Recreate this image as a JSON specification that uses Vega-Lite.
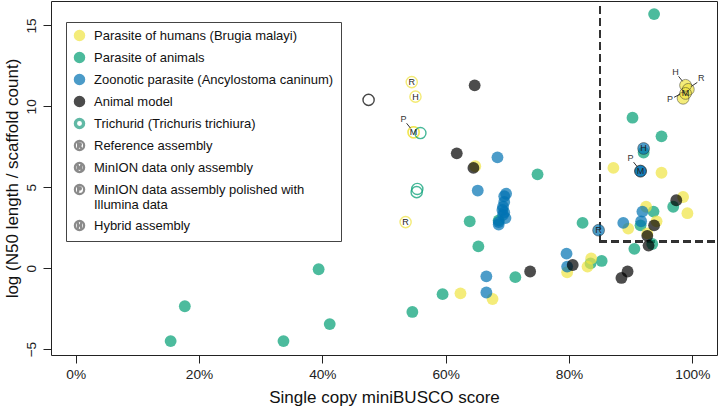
{
  "$schema": "https://vega.github.io/schema/vega-lite/v6.json",
  "autosize": "none",
  "width": 666,
  "height": 354,
  "padding": {"left": 51, "top": 1, "right": 2, "bottom": 56},
  "config": {
    "view": {"stroke": "#222", "strokeWidth": 1},
    "font": "Liberation Sans",
    "axis": {"domain": false, "grid": false, "tickColor": "#222", "tickSize": 8, "labelFont": "Liberation Sans", "labelFontSize": 13.7, "labelColor": "#222", "titleFont": "Liberation Sans", "titleFontSize": 17, "titleFontWeight": "normal", "titleColor": "#111"},
    "legend": {"title": null, "orient": "none", "legendX": 15, "legendY": 21, "padding": 7,
      "strokeColor": "#444", "fillColor": "white", "labelFontSize": 13, "labelFont": "Liberation Sans", "labelColor": "#111",
      "symbolSize": 100, "labelOffset": 8, "rowPadding": 5, "labelLimit": 400}
  },
  "data": {"values": [
    {"x":93.8,"y":15.7,"c":"ani"},{"x":90.3,"y":9.3,"c":"ani"},{"x":95.0,"y":8.15,"c":"ani"},{"x":92.1,"y":7.15,"c":"ani"},
    {"x":74.9,"y":5.8,"c":"ani"},{"x":96.9,"y":3.8,"c":"ani"},{"x":93.7,"y":3.5,"c":"ani"},{"x":91.6,"y":2.65,"c":"ani"},
    {"x":82.2,"y":2.8,"c":"ani"},{"x":93.5,"y":1.5,"c":"ani"},{"x":90.6,"y":1.2,"c":"ani"},{"x":85.3,"y":0.45,"c":"ani"},
    {"x":83.5,"y":0.3,"c":"ani"},{"x":68.6,"y":2.96,"c":"ani"},{"x":63.9,"y":2.9,"c":"ani"},{"x":65.3,"y":1.35,"c":"ani"},
    {"x":71.3,"y":-0.55,"c":"ani"},{"x":59.5,"y":-1.6,"c":"ani"},{"x":39.4,"y":-0.06,"c":"ani"},{"x":17.7,"y":-2.35,"c":"ani"},
    {"x":15.4,"y":-4.5,"c":"ani"},{"x":33.7,"y":-4.5,"c":"ani"},{"x":41.2,"y":-3.45,"c":"ani"},{"x":54.6,"y":-2.7,"c":"ani"},
    {"x":87.2,"y":6.2,"c":"hum"},{"x":95.0,"y":5.9,"c":"hum"},{"x":98.5,"y":4.4,"c":"hum"},{"x":99.2,"y":3.4,"c":"hum"},
    {"x":92.5,"y":3.8,"c":"hum"},{"x":94.2,"y":2.9,"c":"hum"},{"x":89.6,"y":2.45,"c":"hum"},{"x":92.7,"y":2.15,"c":"hum"},
    {"x":83.6,"y":0.6,"c":"hum"},{"x":83.0,"y":0.1,"c":"hum"},{"x":79.7,"y":-0.25,"c":"hum"},{"x":64.8,"y":6.3,"c":"hum"},
    {"x":62.4,"y":-1.55,"c":"hum"},{"x":67.6,"y":-1.9,"c":"hum"},
    {"x":98.9,"y":11.3,"c":"hum","a":"H","p":"ul"},{"x":99.35,"y":11.05,"c":"hum","a":"R","p":"ur"},
    {"x":98.5,"y":10.5,"c":"hum","a":"P","p":"l"},{"x":98.9,"y":10.8,"c":"hum","a":"M","p":"c"},
    {"x":68.4,"y":6.85,"c":"zoo"},{"x":65.2,"y":4.8,"c":"zoo"},
    {"x":69.8,"y":4.6,"c":"zoo"},{"x":69.5,"y":4.45,"c":"zoo"},{"x":69.5,"y":4.1,"c":"zoo"},{"x":69.3,"y":3.8,"c":"zoo"},
    {"x":69.2,"y":3.6,"c":"zoo"},{"x":69.5,"y":3.45,"c":"zoo"},{"x":69.3,"y":3.3,"c":"zoo"},{"x":69.7,"y":3.1,"c":"zoo"},
    {"x":68.6,"y":2.85,"c":"zoo"},{"x":68.6,"y":2.7,"c":"zoo"},
    {"x":79.6,"y":0.9,"c":"zoo"},{"x":79.7,"y":0.1,"c":"zoo"},{"x":66.6,"y":-0.5,"c":"zoo"},{"x":66.6,"y":-1.5,"c":"zoo"},
    {"x":91.9,"y":3.5,"c":"zoo"},{"x":88.8,"y":2.8,"c":"zoo"},{"x":91.7,"y":2.9,"c":"zoo"},
    {"x":92.1,"y":7.4,"c":"zoo","a":"H","p":"c"},{"x":91.6,"y":6.0,"c":"zoo","a":"P","p":"ul"},
    {"x":91.6,"y":6.0,"c":"zoo","a":"M","p":"c"},{"x":84.8,"y":2.35,"c":"zoo","a":"R","p":"c"},
    {"x":64.7,"y":11.3,"c":"mod"},{"x":61.8,"y":7.1,"c":"mod"},{"x":64.5,"y":6.2,"c":"mod"},{"x":97.4,"y":4.2,"c":"mod"},
    {"x":93.8,"y":2.65,"c":"mod"},{"x":92.7,"y":2.0,"c":"mod"},{"x":92.9,"y":1.4,"c":"mod"},{"x":80.6,"y":0.2,"c":"mod"},
    {"x":73.7,"y":-0.2,"c":"mod"},{"x":89.5,"y":-0.2,"c":"mod"},{"x":88.5,"y":-0.6,"c":"mod"},
    {"x":54.5,"y":11.5,"c":"hum","h":1,"a":"R","p":"c"},{"x":55.1,"y":10.6,"c":"hum","h":1,"a":"H","p":"c"},
    {"x":54.8,"y":8.4,"c":"hum","h":1,"a":"P","p":"ul"},{"x":54.8,"y":8.4,"c":"hum","h":1,"a":"M","p":"c"},
    {"x":53.5,"y":2.85,"c":"hum","h":1,"a":"R","p":"c"},
    {"x":55.9,"y":8.35,"c":"ani","h":1},{"x":55.4,"y":4.9,"c":"ani","h":1},{"x":55.3,"y":4.7,"c":"ani","h":1},
    {"x":47.5,"y":10.4,"c":"mod","h":1}
  ]},
  "encoding": {
    "x": {"field": "x", "type": "quantitative", "scale": {"domain": [-4, 104], "nice": false, "zero": false},
      "axis": {"values": [0, 20, 40, 60, 80, 100], "labelExpr": "datum.value + '%'", "labelPadding": 4, "title": "Single copy miniBUSCO score", "titlePadding": 9}},
    "y": {"field": "y", "type": "quantitative", "scale": {"domain": [-5.36, 16.51], "nice": false, "zero": false},
      "axis": {"values": [-5, 0, 5, 10, 15], "labelAngle": 270, "labelAlign": "center", "labelBaseline": "bottom", "labelPadding": 5, "title": "log (N50 length / scaffold count)", "titlePadding": 3}}
  },
  "layer": [
    {"mark": {"type": "rule", "strokeDash": [7, 5], "strokeWidth": 1.4, "color": "#333"},
     "encoding": {"x": {"datum": 85}, "y": {"datum": 1.65}, "y2": {"datum": 16.51}}},
    {"mark": {"type": "rule", "strokeDash": [7, 5], "strokeWidth": 1.4, "color": "#333"},
     "encoding": {"x": {"datum": 85}, "x2": {"datum": 104}, "y": {"datum": 1.65}}},
    {"transform": [{"filter": "datum.h != 1"}],
     "mark": {"type": "point", "filled": true, "size": 140, "opacity": 0.7},
     "encoding": {
       "color": {"field": "c", "type": "nominal",
         "scale": {"domain": ["hum", "ani", "zoo", "mod", "tri", "ref", "min", "pol", "hyb"],
                   "range": ["#F0E442", "#009E73", "#0072B2", "#000000", "#1f9c80", "#5a5a5a", "#5a5a5a", "#5a5a5a", "#5a5a5a"]},
         "legend": {"labelExpr": "datum.value=='hum' ? 'Parasite of humans (Brugia malayi)' : datum.value=='ani' ? 'Parasite of animals' : datum.value=='zoo' ? 'Zoonotic parasite (Ancylostoma caninum)' : datum.value=='mod' ? 'Animal model' : datum.value=='tri' ? 'Trichurid (Trichuris trichiura)' : datum.value=='ref' ? 'Reference assembly' : datum.value=='min' ? 'MinION data only assembly' : datum.value=='pol' ? ['MinION data assembly polished with', 'Illumina data'] : 'Hybrid assembly'"}},
       "shape": {"field": "c", "type": "nominal",
         "scale": {"domain": ["hum", "ani", "zoo", "mod", "tri", "ref", "min", "pol", "hyb"],
                   "range": ["circle", "circle", "circle", "circle",
                     "M-1,0A1,1,0,1,1,1,0A1,1,0,1,1,-1,0ZM-0.64,0A0.64,0.64,0,1,0,0.64,0A0.64,0.64,0,1,0,-0.64,0Z",
                     "M-1,0A1,1,0,1,1,1,0A1,1,0,1,1,-1,0ZM-0.86,0A0.86,0.86,0,1,0,0.86,0A0.86,0.86,0,1,0,-0.86,0ZM-0.35,-0.5H0.07A0.275,0.275,0,0,1,0.07,0.05H-0.19V0.5H-0.35ZM-0.19,-0.34V-0.11H0.07A0.115,0.115,0,0,0,0.07,-0.34ZM0,0.05H0.17L0.4,0.5H0.23Z",
                     "M-1,0A1,1,0,1,1,1,0A1,1,0,1,1,-1,0ZM-0.86,0A0.86,0.86,0,1,0,0.86,0A0.86,0.86,0,1,0,-0.86,0ZM-0.45,-0.5H-0.29V0.5H-0.45ZM0.29,-0.5H0.45V0.5H0.29ZM-0.29,-0.5L0,0.08L0.29,-0.5V-0.22L0,0.3L-0.29,-0.22Z",
                     "M-1,0A1,1,0,1,1,1,0A1,1,0,1,1,-1,0ZM-0.86,0A0.86,0.86,0,1,0,0.86,0A0.86,0.86,0,1,0,-0.86,0ZM-0.35,-0.5H0.07A0.275,0.275,0,0,1,0.07,0.05H-0.19V0.5H-0.35ZM-0.19,-0.34V-0.11H0.07A0.115,0.115,0,0,0,0.07,-0.34Z",
                     "M-1,0A1,1,0,1,1,1,0A1,1,0,1,1,-1,0ZM-0.86,0A0.86,0.86,0,1,0,0.86,0A0.86,0.86,0,1,0,-0.86,0ZM-0.4,-0.5H-0.23V0.5H-0.4ZM0.23,-0.5H0.4V0.5H0.23ZM-0.23,-0.08H0.23V0.08H-0.23Z"]},
         "legend": {"labelExpr": "datum.value=='hum' ? 'Parasite of humans (Brugia malayi)' : datum.value=='ani' ? 'Parasite of animals' : datum.value=='zoo' ? 'Zoonotic parasite (Ancylostoma caninum)' : datum.value=='mod' ? 'Animal model' : datum.value=='tri' ? 'Trichurid (Trichuris trichiura)' : datum.value=='ref' ? 'Reference assembly' : datum.value=='min' ? 'MinION data only assembly' : datum.value=='pol' ? ['MinION data assembly polished with', 'Illumina data'] : 'Hybrid assembly'"}}
     }},
    {"transform": [{"filter": "datum.h == 1 && datum.a"}],
     "mark": {"type": "point", "filled": true, "size": 140, "opacity": 1, "color": "white"}},
    {"transform": [{"filter": "datum.h == 1"}],
     "mark": {"type": "point", "filled": false, "size": 125, "strokeWidth": 1.4, "opacity": 0.72},
     "encoding": {"color": {"field": "c", "type": "nominal", "legend": null}}},
    {"transform": [{"filter": "datum.h != 1 && datum.a"}],
     "mark": {"type": "point", "filled": false, "size": 140, "strokeWidth": 1, "color": "#222", "opacity": 0.45}},
    {"transform": [{"filter": "datum.p == 'c'"}],
     "mark": {"type": "text", "fontSize": 9, "color": "#222", "font": "Liberation Sans"},
     "encoding": {"text": {"field": "a"}}},
    {"transform": [{"filter": "datum.p == 'ul'"}],
     "mark": {"type": "text", "fontSize": 9, "color": "#333", "dx": -10, "dy": -13, "font": "Liberation Sans"},
     "encoding": {"text": {"field": "a"}}},
    {"transform": [{"filter": "datum.p == 'ur'"}],
     "mark": {"type": "text", "fontSize": 9, "color": "#333", "dx": 13, "dy": -11, "font": "Liberation Sans"},
     "encoding": {"text": {"field": "a"}}},
    {"transform": [{"filter": "datum.p == 'l'"}],
     "mark": {"type": "text", "fontSize": 9, "color": "#333", "dx": -13, "dy": 1, "font": "Liberation Sans"},
     "encoding": {"text": {"field": "a"}}},
    {"transform": [{"filter": "datum.p == 'ul'"}],
     "mark": {"type": "rule", "color": "#333", "strokeWidth": 1, "xOffset": -7, "yOffset": -9, "x2Offset": -3, "y2Offset": -4},
     "encoding": {"x2": {"field": "x"}, "y2": {"field": "y"}}},
    {"transform": [{"filter": "datum.p == 'ur'"}],
     "mark": {"type": "rule", "color": "#333", "strokeWidth": 1, "xOffset": 9, "yOffset": -7, "x2Offset": 3, "y2Offset": -3},
     "encoding": {"x2": {"field": "x"}, "y2": {"field": "y"}}},
    {"transform": [{"filter": "datum.p == 'l'"}],
     "mark": {"type": "rule", "color": "#333", "strokeWidth": 1, "xOffset": -9, "yOffset": -1, "x2Offset": -3, "y2Offset": -4},
     "encoding": {"x2": {"field": "x"}, "y2": {"field": "y"}}}
  ]
}
